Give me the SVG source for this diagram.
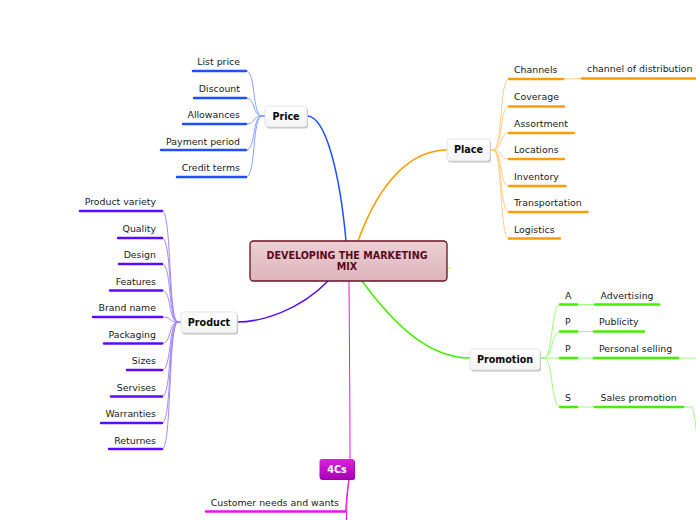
<svg xmlns="http://www.w3.org/2000/svg" width="696" height="520" viewBox="0 0 696 520">
<defs>
<linearGradient id="gCenter" x1="0" y1="0" x2="0" y2="1">
<stop offset="0" stop-color="#ecd0d4"/><stop offset="1" stop-color="#dcb4ba"/>
</linearGradient>
<linearGradient id="g4c" x1="0" y1="0" x2="0" y2="1">
<stop offset="0" stop-color="#dd22dd"/><stop offset="1" stop-color="#a800b4"/>
</linearGradient>
<linearGradient id="gWhite" x1="0" y1="0" x2="0" y2="1">
<stop offset="0" stop-color="#ffffff"/><stop offset="1" stop-color="#f4f4f4"/>
</linearGradient>
</defs>
<style>
text{font-family:"DejaVu Sans",Verdana,sans-serif;font-size:9.4px;fill:#1a1a1a}
.r{text-anchor:end}
.c{text-anchor:middle}
.nb{font-weight:bold;font-size:9.6px;fill:#0a0a0a}
.sh{fill:#c0c0c0}
.box{fill:url(#gWhite);stroke:#dedede;stroke-width:0.8}
.ul{fill:none;stroke-width:2.5;stroke-linecap:round}
.th{fill:none;stroke-width:1}
.main{stroke-width:1.5}
.blue{stroke:#1f4fff}.tblue{stroke:#86a3ff}
.org{stroke:#ff9d00}.torg{stroke:#ffcf85}
.pur{stroke:#5a0cff}.tpur{stroke:#a488ff}
.grn{stroke:#44ee00}.tgrn{stroke:#9dff80}
.mag{stroke:#ee11ee}
</style>

<g id="connectors">
<path class="th main blue" d="M346 241 C340 175 326 116 307 116"/>
<path class="th main org" d="M358 241 C380 180 412 150 447 150"/>
<path class="th main pur" d="M328 281 C300 310 262 322 237 322"/>
<path class="th main grn" d="M362 281 C398 330 432 358 470 358"/>
<path class="th mag" stroke-width="1.8" d="M349 281 C349.5 350 350 420 350 459"/>
<path class="th" stroke="#eeee22" stroke-width="1.3" d="M447 268 L451 268"/>
<!-- price -->
<path class="th blue" stroke-width="2" d="M262 116 L265 116"/>
<path class="th tblue" d="M262 116 C252 116 256 71 246 71"/>
<path class="th tblue" d="M262 116 C252 116 256 98 246 98"/>
<path class="th tblue" d="M262 116 C252 116 256 124 246 124"/>
<path class="th tblue" d="M262 116 C252 116 256 150 246 150"/>
<path class="th tblue" d="M262 116 C252 116 256 177 246 177"/>
<!-- place -->
<path class="th org" stroke-width="2" d="M490 150 L493 150"/>
<path class="th torg" d="M493 150 C503 150 499 79 509 79"/>
<path class="th torg" d="M493 150 C503 150 499 106.5 509 106.5"/>
<path class="th torg" d="M493 150 C503 150 499 133 509 133"/>
<path class="th torg" d="M493 150 C503 150 499 159 509 159"/>
<path class="th torg" d="M493 150 C503 150 499 186 509 186"/>
<path class="th torg" d="M493 150 C503 150 499 212 509 212"/>
<path class="th torg" d="M493 150 C503 150 499 238.5 509 238.5"/>
<path class="th torg" d="M563 79 C572 79 573 78.5 582 78.5"/>
<!-- product -->
<path class="th pur" stroke-width="2" d="M178 322 L181 322"/>
<path class="th tpur" d="M178 322 C168 322 172 211 162 211"/>
<path class="th tpur" d="M178 322 C168 322 172 238 162 238"/>
<path class="th tpur" d="M178 322 C168 322 172 264 162 264"/>
<path class="th tpur" d="M178 322 C168 322 172 290.5 162 290.5"/>
<path class="th tpur" d="M178 322 C168 322 172 317 162 317"/>
<path class="th tpur" d="M178 322 C168 322 172 343.5 162 343.5"/>
<path class="th tpur" d="M178 322 C168 322 172 370 162 370"/>
<path class="th tpur" d="M178 322 C168 322 172 396.5 162 396.5"/>
<path class="th tpur" d="M178 322 C168 322 172 423 162 423"/>
<path class="th tpur" d="M178 322 C168 322 172 449 162 449"/>
<!-- promotion -->
<path class="th grn" stroke-width="2" d="M541 358 L544 358"/>
<path class="th tgrn" d="M544 358 C553 358 551 304.5 560 304.5"/>
<path class="th tgrn" d="M544 358 C553 358 551 331.5 560 331.5"/>
<path class="th tgrn" d="M544 358 L560 358"/>
<path class="th tgrn" d="M544 358 C553 358 551 407 560 407"/>
<path class="th tgrn" d="M577 304.5 L595 304.5"/>
<path class="th tgrn" d="M577 331.5 L594 331.5"/>
<path class="th tgrn" d="M577 358 L594 358"/>
<path class="th tgrn" d="M577 407 L595 407"/>
<path class="th tgrn" d="M678 358 L696 358"/>
<path class="th tgrn" d="M683 407 L692 407 C694 411 695 420 696 430"/>
<!-- 4Cs -->
<path class="th mag" stroke-width="1.8" d="M349 479 C347 490 346 505 345.5 511.5"/>
<path class="th mag" stroke-width="1.8" d="M349 479 C347 495 346.5 510 346.5 520"/>
</g>

<g id="center">
<rect x="250" y="241" width="197" height="40" rx="3.5" fill="url(#gCenter)" stroke="#6a0f22" stroke-width="1.3"/>
<text class="c" x="347" y="258.5" style="font-weight:bold;font-size:9.6px;fill:#5a0a1e">DEVELOPING THE MARKETING</text>
<text class="c" x="347" y="269.5" style="font-weight:bold;font-size:9.6px;fill:#5a0a1e">MIX</text>
</g>

<g id="price">
<rect class="sh" x="266" y="107.5" width="42" height="21" rx="3"/>
<rect class="box" x="265" y="106" width="42" height="21" rx="3"/>
<text class="c nb" x="286" y="120">Price</text>
</g>
<g id="price-list"><path class="ul blue" d="M193 71 H246"/><text class="r" x="240" y="65">List price</text></g>
<g id="price-discount"><path class="ul blue" d="M194 98 H246"/><text class="r" x="240" y="92">Discount</text></g>
<g id="price-allowances"><path class="ul blue" d="M183 124 H246"/><text class="r" x="240" y="118">Allowances</text></g>
<g id="price-payment"><path class="ul blue" d="M161 150 H246"/><text class="r" x="240" y="144.5">Payment period</text></g>
<g id="price-credit"><path class="ul blue" d="M177 177 H246"/><text class="r" x="240" y="171">Credit terms</text></g>

<g id="place">
<rect class="sh" x="448" y="140.5" width="43" height="22" rx="3"/>
<rect class="box" x="447" y="139" width="43" height="22" rx="3"/>
<text class="c nb" x="468.5" y="153">Place</text>
</g>
<g id="place-channels"><path class="ul org" d="M509 79 H563"/><text x="514" y="73">Channels</text></g>
<g id="place-channel-dist"><path class="ul org" d="M582 78.5 H700"/><text x="587" y="72">channel of distribution</text></g>
<g id="place-coverage"><path class="ul org" d="M509 106.5 H564"/><text x="514" y="100">Coverage</text></g>
<g id="place-assortment"><path class="ul org" d="M509 133 H574"/><text x="514" y="127">Assortment</text></g>
<g id="place-locations"><path class="ul org" d="M509 159 H564"/><text x="514" y="153">Locations</text></g>
<g id="place-inventory"><path class="ul org" d="M509 186 H565.5"/><text x="514" y="180">Inventory</text></g>
<g id="place-transportation"><path class="ul org" d="M509 212 H587.5"/><text x="514" y="206">Transportation</text></g>
<g id="place-logistics"><path class="ul org" d="M509 238.5 H560"/><text x="514" y="232.5">Logistics</text></g>

<g id="product">
<rect class="sh" x="182" y="313.5" width="56" height="21" rx="3"/>
<rect class="box" x="181" y="312" width="56" height="21" rx="3"/>
<text class="c nb" x="209" y="326">Product</text>
</g>
<g id="product-variety"><path class="ul pur" d="M80 211 H162"/><text class="r" x="156" y="205">Product variety</text></g>
<g id="product-quality"><path class="ul pur" d="M118 238 H162"/><text class="r" x="156" y="232">Quality</text></g>
<g id="product-design"><path class="ul pur" d="M119 264 H162"/><text class="r" x="156" y="258">Design</text></g>
<g id="product-features"><path class="ul pur" d="M110 290.5 H162"/><text class="r" x="156" y="284.5">Features</text></g>
<g id="product-brand"><path class="ul pur" d="M93 317 H162"/><text class="r" x="156" y="311">Brand name</text></g>
<g id="product-packaging"><path class="ul pur" d="M104 343.5 H162"/><text class="r" x="156" y="338">Packaging</text></g>
<g id="product-sizes"><path class="ul pur" d="M127 370 H162"/><text class="r" x="156" y="364">Sizes</text></g>
<g id="product-servises"><path class="ul pur" d="M111 396.5 H162"/><text class="r" x="156" y="391">Servises</text></g>
<g id="product-warranties"><path class="ul pur" d="M101 423 H162"/><text class="r" x="156" y="417">Warranties</text></g>
<g id="product-returnes"><path class="ul pur" d="M109 449 H162"/><text class="r" x="156" y="443.5">Returnes</text></g>

<g id="promotion">
<rect class="sh" x="471" y="350.5" width="70" height="21" rx="3"/>
<rect class="box" x="470" y="349" width="70" height="21" rx="3"/>
<text class="c nb" x="505" y="363">Promotion</text>
</g>
<g id="promo-a"><path class="ul grn" d="M560 304.5 H577"/><text x="565" y="298.5">A</text></g>
<g id="promo-advertising"><path class="ul grn" d="M595 304.5 H659"/><text x="600.5" y="298.5">Advertising</text></g>
<g id="promo-p1"><path class="ul grn" d="M560 331.5 H577"/><text x="565" y="325">P</text></g>
<g id="promo-publicity"><path class="ul grn" d="M594 331.5 H644"/><text x="599" y="325">Publicity</text></g>
<g id="promo-p2"><path class="ul grn" d="M560 358 H577"/><text x="565" y="351.5">P</text></g>
<g id="promo-personal"><path class="ul grn" d="M594 358 H678"/><text x="599" y="351.5">Personal selling</text></g>
<g id="promo-s"><path class="ul grn" d="M560 407 H577"/><text x="565" y="401">S</text></g>
<g id="promo-sales"><path class="ul grn" d="M595 407 H683"/><text x="600.5" y="401">Sales promotion</text></g>

<g id="fourcs">
<rect x="320" y="460" width="35" height="20" rx="2.5" fill="#9a00a8"/>
<rect x="319.5" y="459" width="35" height="20" rx="2.5" fill="url(#g4c)"/>
<text class="c" x="337" y="472.5" style="font-weight:bold;font-size:9.6px;fill:#ffffff">4Cs</text>
</g>
<g id="fourcs-customer"><path class="ul mag" d="M206 511.5 H345"/><text class="r" x="339" y="505.5">Customer needs and wants</text></g>
</svg>
